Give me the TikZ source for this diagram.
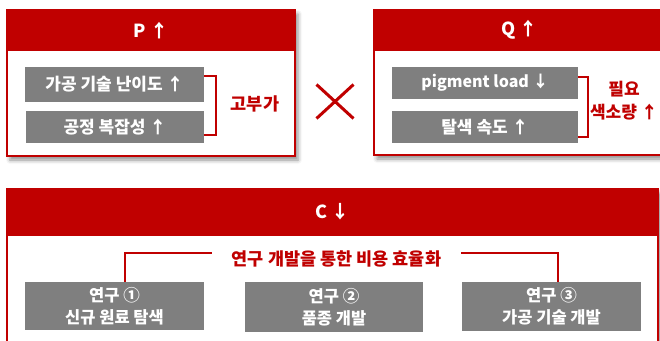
\documentclass[tikz,border=0pt]{standalone}
\usepackage{fontspec}
\setmainfont{Noto Sans CJK KR}
\usetikzlibrary{shadows.blur,shapes.misc}
\definecolor{myred}{HTML}{C00000}
\definecolor{mygray}{HTML}{7F7F7F}
\tikzset{
  panel/.style={draw=myred, line width=2pt, fill=white, inner sep=0pt,
    blur shadow={shadow xshift=3pt, shadow yshift=-4pt, shadow blur radius=4pt, shadow opacity=45}},
  head/.style={fill=myred, inner sep=0pt, text=white, font=\bfseries\fontsize{18}{21}\selectfont},
  graybox/.style={fill=mygray, text=white, inner sep=0pt, align=center,
    font=\bfseries\fontsize{17}{22}\selectfont},
  redlabel/.style={text=myred, inner sep=0pt, align=center, font=\bfseries\fontsize{17.5}{23}\selectfont},
  brace/.style={draw=myred, line width=1.8pt},
}
\begin{document}
\begin{tikzpicture}[x=1pt,y=-1pt]
\useasboundingbox (0,0) rectangle (660,340);
% P panel
\node[panel, minimum width=288pt, minimum height=146pt] (P) at (151,83) {};
\node[head, minimum width=288pt, minimum height=42pt, anchor=north] (Ph) at (P.north) {P ↑};
\node[graybox, minimum width=179pt, minimum height=35pt] (p1) at (114.5,84.5) {가공 기술 난이도 ↑};
\node[graybox, minimum width=178pt, minimum height=32pt] (p2) at (115,127) {공정 복잡성 ↑};
\draw[brace] ([yshift=8.5pt]p1.east) -- ++(12,0) |- ([yshift=-8pt]p2.east);
\node[redlabel] (pl) at (255,104) {고부가};
% cross
\node[cross out, draw=myred, line width=3pt, minimum width=34pt, minimum height=31pt, inner sep=0pt] (x) at (335,101.5) {};
% Q panel
\node[panel, minimum width=291pt, minimum height=145pt] (Q) at (519.5,82.5) {};
\node[head, minimum width=291pt, minimum height=42pt, anchor=north] (Qh) at (Q.north) {Q ↑};
\node[graybox, minimum width=186pt, minimum height=32pt, font=\bfseries\fontsize{16}{20}\selectfont] (q1) at (485,83) {pigment load ↓};
\node[graybox, minimum width=186pt, minimum height=32pt] (q2) at (485,127) {탈색 속도 ↑};
\draw[brace] ([yshift=6pt]q1.east) -- ++(10,0) |- ([yshift=-10pt]q2.east);
\node[redlabel, font=\bfseries\fontsize{17}{23}\selectfont] (ql) at (624,101) {필요\\색소량 ↑};
% C panel
\node[panel, minimum width=651pt, minimum height=170pt] (C) at (332.5,274) {};
\node[head, minimum width=651pt, minimum height=48pt, anchor=north] (Ch) at (C.north) {C ↓};
\node[redlabel, font=\bfseries\fontsize{17.5}{20}\selectfont, inner xsep=20pt] (ct) at (336.5,259) {연구 개발을 통한 비용 효율화};
\node[graybox, minimum width=179pt, minimum height=48pt, font=\bfseries\fontsize{16.5}{22}\selectfont] (c1) at (114.5,306) {연구 ①\\신규 원료 탐색};
\node[graybox, minimum width=178pt, minimum height=50pt, font=\bfseries\fontsize{16.5}{22}\selectfont] (c2) at (334,307) {연구 ②\\품종 개발};
\node[graybox, minimum width=179pt, minimum height=49pt, font=\bfseries\fontsize{16.5}{22}\selectfont] (c3) at (551.5,306.5) {연구 ③\\가공 기술 개발};
\draw[brace, line width=1.5pt] ([xshift=10.5pt]c1.north) |- ([yshift=6pt]ct.west);
\draw[brace, line width=1.5pt] ([xshift=6.5pt]c3.north) |- ([yshift=6pt]ct.east);
\end{tikzpicture}
\end{document}
